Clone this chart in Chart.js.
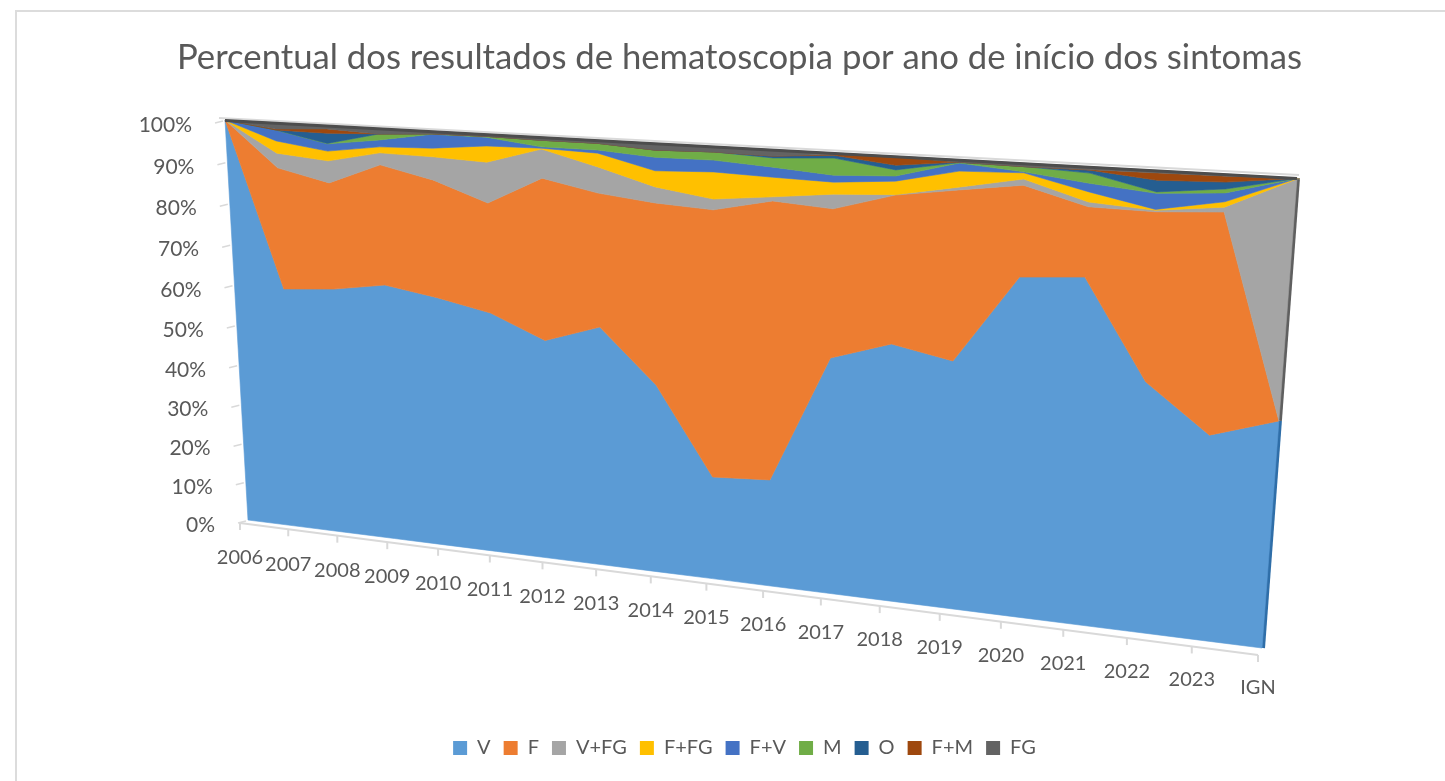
<!DOCTYPE html>
<html>
<head>
<meta charset="utf-8">
<title>Hematoscopia</title>
<script src="https://cdn.jsdelivr.net/npm/chart.js@4"></script>
<style>
  html, body { margin: 0; padding: 0; background: #fff; overflow: hidden; }
  #wrap { position: absolute; left: 0; top: 0; width: 1445px; height: 781px; overflow: hidden; }
  #frame { position: absolute; left: 15px; top: 10px; width: 1440px; height: 790px; border: 2px solid #dcdcdc; box-sizing: border-box; }
  canvas { position: absolute; left: 0; top: 0; }
</style>
</head>
<body>
<div id="wrap">
  <div id="frame"></div>
  <canvas id="chart" width="1445" height="781"></canvas>
</div>
<script>
//Data, percent per year of symptom onset
const years = ["2006","2007","2008","2009","2010","2011","2012","2013","2014","2015","2016","2017","2018","2019","2020","2021","2022","2023","IGN"];
const seriesNames = ["V","F","V+FG","F+FG","F+V","M","O","F+M","FG"];
const seriesColors = ["#5b9bd5","#ed7d31","#a5a5a5","#ffc000","#4472c4","#70ad47","#255e91","#9e480e","#636363"];
const sideColors = ["#2f6ea8","#b85a1c","#5f5f5f","#b58a00","#2c4f8f","#4c7a2e","#173c5e","#6b300a","#444444"];

const v    = [100,60,61,63,61,58.4,53,57.3,44.9,24.5,25.3,54.8,59.1,56.5,75.9,76.9,55.6,45.4,49.8];
const f    = [0,29.3,25.5,28.5,27.7,25.8,37.7,30.8,41.8,61.5,63.5,33.1,32.6,37.1,19.5,14.8,35.9,46.9,0];
const vfg  = [0,3.5,5.2,2.8,5.4,9.4,6.6,5.9,3.6,2.4,0.9,3.2,0.1,0.6,1.3,1,0.3,1,50];
const ffg  = [0,2.9,2.3,1.4,2,3.7,0.2,3.1,3.6,6,4.3,2.6,2.9,3.4,1.3,2.1,0.2,1.1,0.1];
const fv   = [0,2.6,1.7,1.6,3.2,2,0.3,0.7,3,2.6,2.2,1.5,1.1,1.7,0.2,1.8,3.3,1.8,0];
const m    = [0,0,0.1,1.4,0.1,0.2,1.5,1.5,1.6,1.8,2,3.7,1.3,0.1,1.1,2.1,0.3,0.8,0];
const o    = [0,0,2.4,0,0,0,0,0,0,0,0.4,0.6,1,0.1,0,0.6,2.4,1.4,0];
const fm   = [0,0.2,1,0,0,0,0,0,0,0,0,0.2,1.7,0,0,0.1,1.5,1.2,0];
const fgr  = [0,1.5,0.8,1.3,0.6,0.5,0.7,0.7,1.5,1.2,1.4,0.3,0.2,0.5,0.7,0.6,0.5,0.4,0.1];
const seriesValues = [v,f,vfg,ffg,fv,m,o,fm,fgr];

//Where the flat plot rectangle lands on screen (top left, top right, bottom right, bottom left)
const wall = [[225,120],[1297,178],[1262,648],[248,520]];
const textColor = "#595959";
const fontName = "Lato, Carlito, sans-serif";

//Perspective mapping of the unit square on the wall corners
function makeHomography(q){
  const sx = q[0][0]-q[1][0]+q[2][0]-q[3][0], sy = q[0][1]-q[1][1]+q[2][1]-q[3][1];
  const dx1 = q[1][0]-q[2][0], dx2 = q[3][0]-q[2][0];
  const dy1 = q[1][1]-q[2][1], dy2 = q[3][1]-q[2][1];
  const det = dx1*dy2-dx2*dy1;
  const g = (sx*dy2-dx2*sy)/det, h = (dx1*sy-sx*dy1)/det;
  const a = q[1][0]-q[0][0]+g*q[1][0], b = q[3][0]-q[0][0]+h*q[3][0];
  const d = q[1][1]-q[0][1]+g*q[1][1], e = q[3][1]-q[0][1]+h*q[3][1];
  return (s,t) => {
    const w = g*s+h*t+1;
    return {x:(a*s+b*t+q[0][0])/w, y:(d*s+e*t+q[0][1])/w};
  };
}
const homography = makeHomography(wall);

//Scale pixel -> screen pixel
function warp(chart, px, py){
  const area = chart.chartArea;
  return homography((px-area.left)/area.width, (py-area.top)/area.height);
}

//Draws the stacked areas, axes and side edges through the warp
const perspective = {
  id: 'perspective',
  afterLayout(chart){
    //legend sits a little right of the title centre
    chart.legend.left += 5;
    chart.legend.right += 5;
  },
  beforeDatasetsDraw(chart){
    const {ctx, scales:{x, y}} = chart;
    const n = years.length;
    ctx.save();

    //light edge behind the top
    const a0 = warp(chart, x.left, y.top), a1 = warp(chart, x.right, y.top);
    ctx.strokeStyle = "#d9d9d9";
    ctx.lineWidth = 2;
    ctx.beginPath();
    ctx.moveTo(a0.x-6, a0.y-2);
    ctx.lineTo(a1.x+2, a1.y-3);
    ctx.stroke();

    //side edge at the last category
    seriesValues.forEach((vals, s) => {
      const top = chart.getDatasetMeta(s).data[n-1];
      const low = s === 0 ? {x: x.right, y: y.bottom} : chart.getDatasetMeta(s-1).data[n-1];
      if (top.y === low.y) return;
      const p0 = warp(chart, low.x, low.y), p1 = warp(chart, top.x, top.y);
      ctx.strokeStyle = sideColors[s];
      ctx.lineWidth = 4;
      ctx.beginPath();
      ctx.moveTo(p0.x+1, p0.y);
      ctx.lineTo(p1.x+1, p1.y);
      ctx.stroke();
    });

    //areas
    seriesValues.forEach((vals, s) => {
      const meta = chart.getDatasetMeta(s);
      const prev = s === 0 ? null : chart.getDatasetMeta(s-1);
      ctx.fillStyle = seriesColors[s];
      ctx.strokeStyle = seriesColors[s];
      ctx.lineWidth = 0.6;
      ctx.beginPath();
      meta.data.forEach((pt, i) => {
        const p = warp(chart, pt.x, pt.y);
        if (i === 0) ctx.moveTo(p.x, p.y); else ctx.lineTo(p.x, p.y);
      });
      for (let i = n-1; i >= 0; i--) {
        const p = prev ? warp(chart, prev.data[i].x, prev.data[i].y) : warp(chart, x.getPixelForValue(i), y.bottom);
        ctx.lineTo(p.x, p.y);
      }
      ctx.closePath();
      ctx.fill();
      ctx.stroke();
    });

    //dark top edge
    ctx.strokeStyle = "#4d4d4d";
    ctx.lineWidth = 3;
    ctx.beginPath();
    ctx.moveTo(a0.x, a0.y+0.5);
    ctx.lineTo(a1.x, a1.y+0.5);
    ctx.stroke();

    //value axis ticks and labels
    ctx.font = "21px " + fontName;
    ctx.fillStyle = textColor;
    ctx.textAlign = "right";
    ctx.textBaseline = "middle";
    y.ticks.forEach(t => {
      const p = warp(chart, x.left, y.getPixelForValue(t.value));
      ctx.strokeStyle = "#d9d9d9";
      ctx.lineWidth = 1.5;
      ctx.beginPath();
      ctx.moveTo(p.x-10, p.y+3);
      ctx.lineTo(p.x-2, p.y+1);
      ctx.stroke();
      ctx.fillText(t.value + "%", p.x-33, p.y+5);
    });

    //category axis line, ticks and labels
    const axisPoint = i => {
      const p = warp(chart, x.getPixelForValue(i), y.bottom);
      const k = i/(n-1);
      return {x: p.x-8+4*k, y: p.y+3+4*k};
    };
    ctx.font = "20px " + fontName;
    ctx.strokeStyle = "#d9d9d9";
    ctx.lineWidth = 2;
    ctx.beginPath();
    ctx.moveTo(axisPoint(0).x, axisPoint(0).y);
    ctx.lineTo(axisPoint(n-1).x, axisPoint(n-1).y);
    ctx.stroke();
    ctx.textAlign = "center";
    years.forEach((label, i) => {
      const p = axisPoint(i);
      ctx.beginPath();
      ctx.moveTo(p.x, p.y);
      ctx.lineTo(p.x, p.y+7);
      ctx.stroke();
      ctx.fillText(label, p.x, p.y+35-2*i/(n-1));
    });
    ctx.restore();
  }
};

const data = {
  labels: years,
  datasets: seriesNames.map((name, s) => ({
    label: name,
    data: seriesValues[s],
    backgroundColor: seriesColors[s],
    borderColor: seriesColors[s],
    borderWidth: 0,
    showLine: false,
    pointRadius: 0,
    fill: false,
  })),
};

const config = {
  type: 'line',
  data: data,
  options: {
    responsive: false,
    animation: false,
    layout: {padding: {left: 64, right: 30, top: 0, bottom: 13}},
    plugins: {
      title: {
        display: true,
        text: "Percentual dos resultados de hematoscopia por ano de início dos sintomas",
        color: textColor,
        font: {family: fontName, size: 34.7, weight: 'normal'},
        padding: {top: 37, bottom: 20},
      },
      legend: {
        position: 'bottom',
        labels: {
          color: textColor,
          font: {family: fontName, size: 20},
          boxWidth: 14,
          boxHeight: 14,
          padding: 13,
        },
      },
      tooltip: {enabled: false},
    },
    scales: {
      x: {display: false, type: 'category', offset: false, stacked: true},
      y: {display: false, stacked: true, min: 0, max: 100, ticks: {stepSize: 10}},
    },
  },
  plugins: [perspective],
};

const hemato = new Chart(document.getElementById("chart"), config);
</script>
</body>
</html>
